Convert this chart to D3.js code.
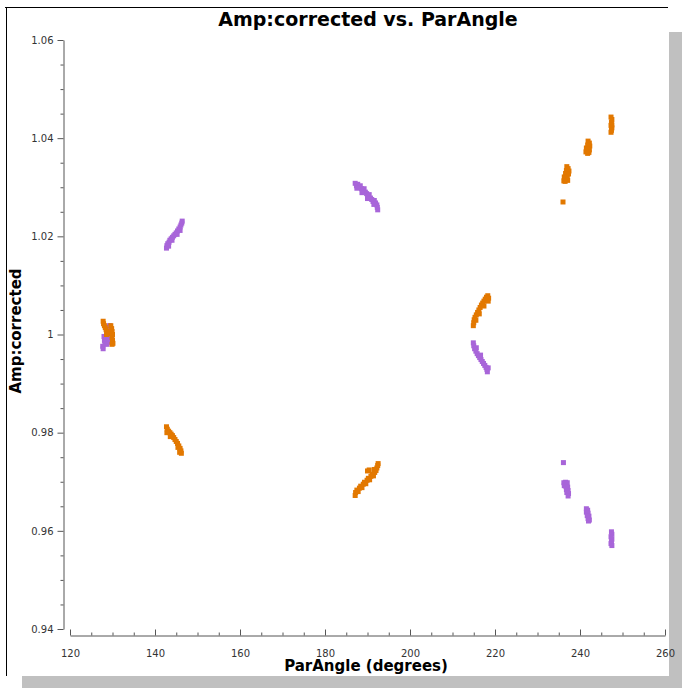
<!DOCTYPE html>
<html>
<head>
<meta charset="utf-8">
<script src="https://cdn.jsdelivr.net/npm/d3@7"></script>
<style>
  body { margin: 0; background: #fff; }
  svg { display: block; font-family: "DejaVu Sans", sans-serif; }
</style>
</head>
<body>
<div id="chart"></div>
<script>
const w = 682;
const h = 688;

// axis ticks
const xTicks = [120, 140, 160, 180, 200, 220, 240, 260];
const yTicks = [0.94, 0.96, 0.98, 1, 1.02, 1.04, 1.06];

// [parAngle, amp] per scan, first correlation (orange)
const orangeScan1 = [[127.8,1.0027],[127.9,1.0022],[128.1,1.0018],[128.3,1.0014],[128.5,1.0010],[128.7,1.0006],[128.9,1.0002],[128.6,1.0000],[129.6,1.0018],[129.8,1.0012],[129.9,1.0006],[130.0,1.0000],[129.9,0.9994],[130.0,0.9988],[130.1,0.9982],[129.9,0.9980]];
const orangeScan2 = [[142.7,0.9812],[142.9,0.9807],[143.2,0.9803],[143.5,0.9800],[143.8,0.9797],[144.1,0.9794],[144.4,0.9790],[144.7,0.9786],[145.0,0.9782],[145.3,0.9778],[145.6,0.9773],[145.9,0.9768],[146.1,0.9763],[146.2,0.9758],[142.8,0.9800],[143.6,0.9792],[145.4,0.9770],[145.8,0.9760]];
const orangeScan3 = [[187.1,0.9672],[187.2,0.9678],[187.5,0.9683],[187.8,0.9680],[188.1,0.9687],[188.4,0.9691],[188.7,0.9688],[189.0,0.9695],[189.3,0.9699],[189.6,0.9696],[189.9,0.9703],[190.2,0.9707],[190.5,0.9704],[190.8,0.9711],[191.1,0.9715],[191.4,0.9712],[191.7,0.9719],[192.0,0.9723],[192.2,0.9728],[192.4,0.9733],[192.5,0.9737],[190.0,0.9722],[190.4,0.9724],[191.6,0.9725]];
const orangeScan4 = [[214.9,1.0018],[215.0,1.0024],[215.1,1.0030],[215.3,1.0035],[215.6,1.0040],[215.9,1.0045],[216.2,1.0050],[216.5,1.0055],[216.8,1.0060],[217.1,1.0064],[217.4,1.0068],[217.7,1.0072],[218.0,1.0076],[218.3,1.0079],[218.5,1.0074],[218.4,1.0068],[215.5,1.0029],[216.3,1.0042],[217.4,1.0058]];
const orangeScan5 = [[236.9,1.0342],[237.2,1.0338],[237.4,1.0333],[236.8,1.0334],[236.6,1.0328],[236.9,1.0326],[237.3,1.0327],[236.3,1.0321],[236.6,1.0318],[237.0,1.0319],[236.2,1.0313],[236.5,1.0312],[237.1,1.0314],[236.0,1.0270]];
const orangeScan6 = [[241.9,1.0394],[242.2,1.0390],[242.3,1.0384],[241.8,1.0386],[241.5,1.0380],[241.9,1.0378],[242.2,1.0376],[241.4,1.0372],[241.8,1.0369],[242.1,1.0371]];
const orangeScan7 = [[247.3,1.0443],[247.5,1.0438],[247.4,1.0432],[247.3,1.0426],[247.5,1.0421],[247.4,1.0416],[247.3,1.0412],[247.5,1.0427]];

// second correlation (purple)
const purpleScan1 = [[128.0,0.9996],[128.4,0.9994],[128.8,0.9993],[129.2,0.9992],[128.1,0.9988],[128.6,0.9986],[129.1,0.9984],[128.2,0.9981],[128.7,0.9980],[127.7,0.9976],[127.8,0.9971],[129.3,1.0018],[129.5,1.0013],[129.6,1.0008],[129.5,1.0003]];
const purpleScan2 = [[142.7,1.0176],[142.8,1.0181],[143.0,1.0185],[143.3,1.0188],[143.5,1.0192],[143.8,1.0195],[144.1,1.0198],[144.4,1.0201],[144.7,1.0204],[145.0,1.0207],[145.3,1.0211],[145.6,1.0215],[145.9,1.0219],[146.1,1.0223],[146.3,1.0227],[146.4,1.0231],[143.2,1.0180],[144.0,1.0192],[145.2,1.0204],[145.9,1.0212]];
const purpleScan3 = [[187.1,1.0308],[187.4,1.0303],[187.7,1.0306],[188.0,1.0300],[188.3,1.0303],[188.6,1.0297],[188.9,1.0294],[189.2,1.0297],[189.5,1.0290],[189.8,1.0287],[190.1,1.0283],[190.4,1.0285],[190.7,1.0278],[191.0,1.0275],[191.3,1.0271],[191.6,1.0273],[191.9,1.0268],[192.2,1.0264],[192.3,1.0259],[192.4,1.0254],[187.5,1.0298],[188.7,1.0289],[190.0,1.0277],[191.5,1.0265]];
const purpleScan4 = [[214.9,0.9983],[215.0,0.9977],[215.2,0.9971],[215.5,0.9966],[215.8,0.9961],[216.1,0.9957],[216.4,0.9953],[216.7,0.9949],[217.0,0.9945],[217.3,0.9941],[217.6,0.9937],[217.9,0.9933],[218.1,0.9929],[218.2,0.9924],[218.4,0.9932],[215.6,0.9973],[216.6,0.9958]];
const purpleScan5 = [[236.2,0.9698],[236.6,0.9699],[237.0,0.9698],[236.3,0.9692],[236.7,0.9690],[237.1,0.9689],[236.8,0.9684],[237.2,0.9682],[236.9,0.9678],[237.3,0.9676],[237.2,0.9671],[236.1,0.9739]];
const purpleScan6 = [[241.5,0.9645],[241.8,0.9642],[241.5,0.9638],[241.9,0.9636],[241.7,0.9631],[242.1,0.9630],[241.9,0.9625],[242.2,0.9622],[242.0,0.9620]];
const purpleScan7 = [[247.4,0.9598],[247.5,0.9593],[247.3,0.9588],[247.5,0.9583],[247.4,0.9578],[247.3,0.9574],[247.5,0.9570]];

const orange = "#e27800";
const purple = "#a865d9";
const dot = 5;

let x = d3.scaleLinear().domain([120, 260]).range([70, 665]);
let y = d3.scaleLinear().domain([0.94, 1.06]).range([629, 40]);

let svg = d3
  .select("#chart")
  .append("svg")
  .attr("width", w)
  .attr("height", h);

// frame + drop shadow
svg.append("rect").attr("x", 669).attr("y", 32).attr("width", 13).attr("height", 656).attr("fill", "#c0c0c0");
svg.append("rect").attr("x", 22).attr("y", 676).attr("width", 660).attr("height", 12).attr("fill", "#c0c0c0");
svg.append("line").attr("x1", 5).attr("x2", 668).attr("y1", 7.5).attr("y2", 7.5).attr("stroke", "#000");
svg.append("line").attr("x1", 6.5).attr("x2", 6.5).attr("y1", 7).attr("y2", 676).attr("stroke", "#000");

// title
svg.append("text")
  .attr("x", 368).attr("y", 26)
  .attr("text-anchor", "middle")
  .attr("font-size", 19).attr("font-weight", "bold")
  .attr("fill", "#000")
  .text("Amp:corrected vs. ParAngle");

// y axis
let yMinor = d3.range(0, 25).map(i => 0.94 + i * 0.005).filter(v => !yTicks.some(t => Math.abs(t - v) < 1e-6));
let gy = svg.append("g").attr("transform", "translate(63.5,0)");
gy.append("g")
  .call(d3.axisLeft(y).tickValues(yMinor).tickSize(3).tickFormat("").tickSizeOuter(0))
  .call(g => g.select(".domain").remove());
gy.append("g")
  .call(d3.axisLeft(y).tickValues(yTicks).tickSize(6).tickPadding(4).tickSizeOuter(0)
    .tickFormat(d => String(+d.toFixed(2))));
gy.selectAll("line, path").attr("stroke", "#555");
gy.selectAll("text").attr("font-size", 10).attr("fill", "#333").attr("font-family", "DejaVu Sans, sans-serif");

// x axis
let xMinor = d3.range(120, 261, 5).filter(v => v % 20 != 0);
let gx = svg.append("g").attr("transform", "translate(0,635.5)");
gx.append("g")
  .call(d3.axisTop(x).tickValues(xMinor).tickSize(3).tickFormat("").tickSizeOuter(0))
  .call(g => g.select(".domain").remove());
gx.append("g")
  .call(d3.axisTop(x).tickValues(xTicks).tickSize(6).tickSizeOuter(0).tickFormat(d3.format("d")));
gx.selectAll("text")
  .attr("y", 21)
  .attr("font-size", 10).attr("fill", "#333").attr("font-family", "DejaVu Sans, sans-serif");
gx.selectAll("line, path").attr("stroke", "#555");

// axis titles
svg.append("text")
  .attr("x", 366).attr("y", 671)
  .attr("text-anchor", "middle")
  .attr("font-size", 15).attr("font-weight", "bold")
  .attr("fill", "#000")
  .text("ParAngle (degrees)");
svg.append("text")
  .attr("transform", "translate(21,331) rotate(-90)")
  .attr("text-anchor", "middle")
  .attr("font-size", 15).attr("font-weight", "bold")
  .attr("fill", "#000")
  .text("Amp:corrected");

// points
let series = [
  { color: purple, scans: [purpleScan1, purpleScan2, purpleScan3, purpleScan4, purpleScan5, purpleScan6, purpleScan7] },
  { color: orange, scans: [orangeScan1, orangeScan2, orangeScan3, orangeScan4, orangeScan5, orangeScan6, orangeScan7] }
];
series.forEach(s => {
  svg.append("g")
    .selectAll("rect")
    .data(s.scans.flat())
    .enter()
    .append("rect")
    .attr("x", d => x(d[0]) - dot / 2)
    .attr("y", d => y(d[1]) - dot / 2)
    .attr("width", dot)
    .attr("height", dot)
    .attr("fill", s.color);
});
</script>
</body>
</html>
